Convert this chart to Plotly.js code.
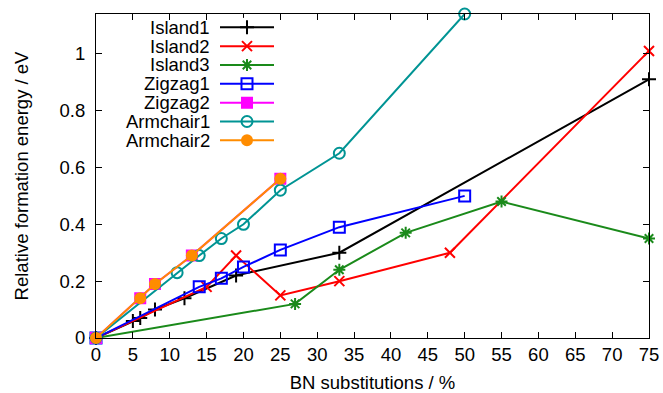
<!DOCTYPE html>
<html>
<head>
<meta charset="utf-8">
<script src="https://cdn.plot.ly/plotly-3.0.1.min.js"></script>
<style>html,body{margin:0;padding:0;background:#fff;}#chart{width:663px;height:393px;}</style>
</head>
<body>
<div id="chart"></div>
<script>
// ---- data ----
const seriesNames = ["Island1", "Island2", "Island3", "Zigzag1", "Zigzag2", "Armchair1", "Armchair2"];

const island1X = [0, 5, 6, 8, 12, 19, 33, 75];
const island1Y = [0, 0.06, 0.07, 0.10, 0.14, 0.22, 0.30, 0.91];

const island2X = [0, 15, 19, 25, 33, 48, 75];
const island2Y = [0, 0.18, 0.29, 0.15, 0.20, 0.30, 1.01];

const island3X = [0, 27, 33, 42, 55, 75];
const island3Y = [0, 0.12, 0.24, 0.37, 0.48, 0.35];

const zigzag1X = [0, 14, 17, 20, 25, 33, 50];
const zigzag1Y = [0, 0.18, 0.21, 0.25, 0.31, 0.39, 0.50];

const zigzag2X = [0, 6, 8, 13, 25];
const zigzag2Y = [0, 0.14, 0.19, 0.29, 0.56];

const armchair1X = [0, 11, 14, 17, 20, 25, 33, 50];
const armchair1Y = [0, 0.23, 0.29, 0.35, 0.40, 0.52, 0.65, 1.14];

const armchair2X = [0, 6, 8, 13, 25];
const armchair2Y = [0, 0.14, 0.19, 0.29, 0.56];

const xTickVals = [0, 5, 10, 15, 20, 25, 30, 35, 40, 45, 50, 55, 60, 65, 70, 75];
const yTickVals = [0, 0.2, 0.4, 0.6, 0.8, 1];
const yTickText = ["0", "0.2", "0.4", "0.6", "0.8", "1"];

// ---- styles ----
const xs = [island1X, island2X, island3X, zigzag1X, zigzag2X, armchair1X, armchair2X];
const ys = [island1Y, island2Y, island3Y, zigzag1Y, zigzag2Y, armchair1Y, armchair2Y];
const colors = ["#000000", "#ff0000", "#1a8a1a", "#0000ff", "#ff00ff", "#009494", "#ff8c00"];
const symbols = ["cross-thin-open", "x-thin-open", "asterisk-open", "square-open", "square", "circle-open", "circle"];
const sizes = [10, 10, 10, 11, 10, 11, 10];

const FONT = "Liberation Sans, Arial, sans-serif";
const traces = [];
seriesNames.forEach((name, i) => {
  traces.push({
    type: "scatter", mode: "lines+markers", name: name,
    x: xs[i], y: ys[i], cliponaxis: false, showlegend: false,
    line: {color: colors[i], width: 2},
    marker: {symbol: symbols[i], size: sizes[i], color: colors[i],
             line: {color: colors[i], width: 2}}
  });
});

// custom legend (text right-aligned, key on the right) on a hidden helper axis
const legendRows = seriesNames.map((_, i) => -i);
seriesNames.forEach((name, i) => {
  traces.push({
    type: "scatter", mode: "lines", xaxis: "x2", yaxis: "y2", showlegend: false, hoverinfo: "skip",
    x: [0, 2], y: [legendRows[i], legendRows[i]], cliponaxis: false,
    line: {color: colors[i], width: 2}
  });
  traces.push({
    type: "scatter", mode: "markers", xaxis: "x2", yaxis: "y2", showlegend: false, hoverinfo: "skip",
    x: [1], y: [legendRows[i]], cliponaxis: false,
    marker: {symbol: symbols[i], size: sizes[i], color: colors[i],
             line: {color: colors[i], width: 2}}
  });
});

const annotations = seriesNames.map((name, i) => ({
  xref: "paper", yref: "y2", x: 0.2071, y: legendRows[i],
  xanchor: "right", yanchor: "middle", showarrow: false, borderpad: 0,
  text: name, font: {family: FONT, size: 18.5, color: "#000"}
}));

const layout = {
  width: 663, height: 393,
  margin: {l: 96, r: 14, t: 14, b: 55},
  paper_bgcolor: "#fff", plot_bgcolor: "#fff",
  font: {family: FONT, size: 18.5, color: "#000"},
  showlegend: false,
  xaxis: {
    range: [0, 75], tickvals: xTickVals, ticks: "inside", ticklen: 6, tickwidth: 1,
    tickcolor: "#000", showline: true, linecolor: "#000", linewidth: 1, mirror: "ticks",
    showgrid: false, zeroline: false,
    tickfont: {family: FONT, size: 18.5, color: "#000"},
    title: {text: "BN substitutions / %", font: {family: FONT, size: 18.5, color: "#000"}, standoff: 12}
  },
  yaxis: {
    range: [0, 1.14], tickvals: yTickVals, ticktext: yTickText, ticks: "inside", ticklen: 6, tickwidth: 1,
    tickcolor: "#000", showline: true, linecolor: "#000", linewidth: 1, mirror: "ticks",
    showgrid: false, zeroline: false, ticklabelstandoff: 6,
    tickfont: {family: FONT, size: 18.5, color: "#000"},
    title: {text: "Relative formation energy / eV", font: {family: FONT, size: 18.5, color: "#000"}, standoff: 26}
  },
  xaxis2: {domain: [0.2242, 0.3219], range: [0, 2], anchor: "y2", visible: false, fixedrange: true},
  yaxis2: {domain: [0.581, 0.988], range: [-6.5, 0.5], anchor: "x2", visible: false, fixedrange: true},
  annotations: annotations
};

Plotly.newPlot("chart", traces, layout, {displayModeBar: false, staticPlot: true});
</script>
</body>
</html>
